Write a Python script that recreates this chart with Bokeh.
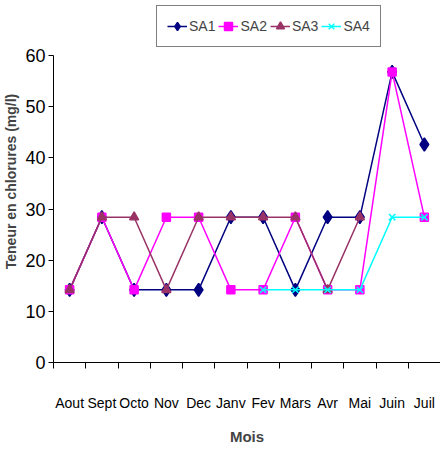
from bokeh.plotting import figure
from bokeh.models import Range1d, FixedTicker, Legend, LegendItem, CustomJSTickFormatter
from bokeh.embed import file_html
from bokeh.resources import INLINE
import numpy as np

months = ["Aout", "Sept", "Octo", "Nov", "Dec", "Janv", "Fev", "Mars", "Avr", "Mai", "Juin", "Juil"]
sa1 = [14.2, 28.4, 14.2, 14.2, 14.2, 28.4, 28.4, 14.2, 28.4, 28.4, 56.8, 42.6]
sa2 = [14.2, 28.4, 14.2, 28.4, 28.4, 14.2, 14.2, 28.4, 14.2, 14.2, 56.8, 28.4]
sa3 = [14.2, 28.4, 28.4, 14.2, 28.4, 28.4, 28.4, 28.4, 14.2, 28.4, np.nan, np.nan]
sa4 = [np.nan, np.nan, np.nan, np.nan, np.nan, np.nan, 14.2, 14.2, 14.2, 14.2, 28.4, 28.4]
y_ticks = [0, 10, 20, 30, 40, 50, 60]

FONT = "Liberation Sans"

n = len(months)
xc = [i + 0.5 for i in range(n)]

p = figure(width=440, height=448, output_backend="svg", toolbar_location=None,
           x_range=Range1d(0, n), y_range=Range1d(0, 70.75),
           min_border_left=44, min_border_right=0, min_border_top=0, min_border_bottom=86)
p.outline_line_color = None
p.xgrid.visible = False
p.ygrid.visible = False

# x axis
p.xaxis.ticker = FixedTicker(ticks=xc, minor_ticks=list(range(n + 1)))
p.xaxis.formatter = CustomJSTickFormatter(args=dict(months=months),
                                          code="return months[Math.floor(tick)];")
p.xaxis.major_tick_out = 0
p.xaxis.major_tick_in = 0
p.xaxis.minor_tick_out = 6
p.xaxis.minor_tick_in = 0
p.xaxis.major_label_standoff = 26
p.xaxis.major_label_text_font = FONT
p.xaxis.major_label_text_font_size = "14px"
p.xaxis.major_label_text_color = "black"
p.xaxis.axis_label = "Mois"
p.xaxis.axis_label_text_font = FONT
p.xaxis.axis_label_text_font_style = "bold"
p.xaxis.axis_label_text_font_size = "15px"
p.xaxis.axis_label_standoff = 14
p.xaxis.axis_line_color = "black"
p.xaxis.minor_tick_line_color = "black"

# y axis
p.yaxis.ticker = FixedTicker(ticks=y_ticks, minor_ticks=[])
p.yaxis.bounds = (0, 60)
p.yaxis.major_tick_out = 5
p.yaxis.major_tick_in = 0
p.yaxis.major_label_standoff = 3
p.yaxis.major_label_text_font = FONT
p.yaxis.major_label_text_font_size = "18px"
p.yaxis.major_label_text_color = "black"
p.yaxis.axis_label = "Teneur en chlorures (mg/l)"
p.yaxis.axis_label_text_font = FONT
p.yaxis.axis_label_text_font_style = "bold"
p.yaxis.axis_label_text_font_size = "14px"
p.yaxis.axis_label_standoff = 3
p.yaxis.axis_line_color = "black"
p.yaxis.major_tick_line_color = "black"

series = [
    ("SA1", sa1, "#000080", "diamond", 13),
    ("SA2", sa2, "#FF00FF", "square", 8),
    ("SA3", sa3, "#993366", "triangle", 9),
    ("SA4", sa4, "#00FFFF", "x", 9),
]
items = []
for name, ys, col, mk, sz in series:
    r1 = p.line(xc, ys, line_color=col, line_width=1.5)
    r2 = p.scatter(xc, ys, marker=mk, size=sz, fill_color=col, line_color=col, line_width=1.5)
    items.append(LegendItem(label=name, renderers=[r1, r2]))

legend = Legend(items=items, orientation="horizontal", location=(103, 315),
                label_text_font=FONT, label_text_font_size="14px",
                border_line_color="black", border_line_width=1,
                glyph_width=20, label_standoff=2, spacing=3, padding=10, margin=0,
                background_fill_color="white")
p.add_layout(legend, "center")

open("out.html", "w").write(file_html(p, INLINE))
